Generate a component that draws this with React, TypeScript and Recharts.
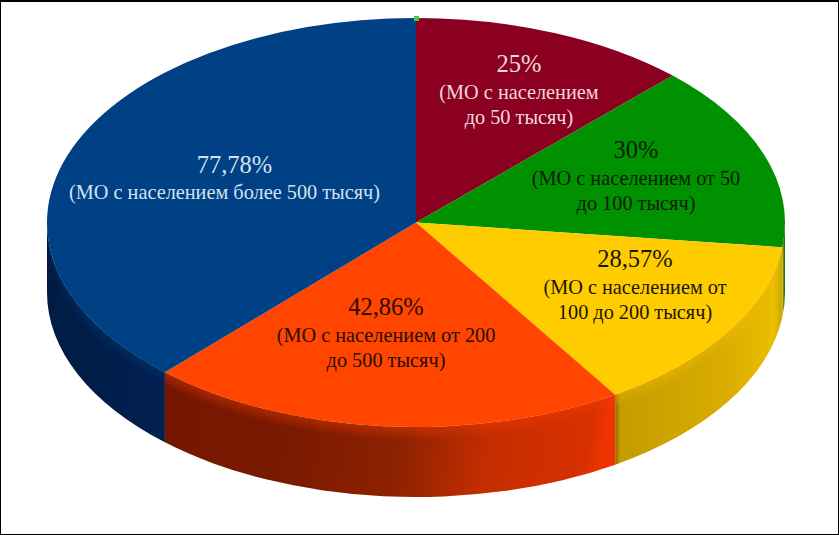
import { PieChart, Pie } from 'recharts'

const categories = ['до 50 тысяч', 'от 50 до 100 тысяч', 'от 100 до 200 тысяч', 'от 200 до 500 тысяч', 'более 500 тысяч']
const values = [25, 30, 28.57, 42.86, 77.78]
const percentLabels = ['25%', '30%', '28,57%', '42,86%', '77,78%']
const captionLines = [
  ['(МО с населением', 'до 50 тысяч)'],
  ['(МО с населением от 50', 'до 100 тысяч)'],
  ['(МО с населением от', '100 до 200 тысяч)'],
  ['(МО с населением от 200', 'до 500 тысяч)'],
  ['(МО с населением более 500 тысяч)'],
]

const TOP_COLORS = ['#8b0020', '#009100', '#ffcc00', '#ff4500', '#004084']
const WALL_FILLS = ['#5a0015', 'url(#wallGreen)', 'url(#wallYellow)', 'url(#wallOrange)', 'url(#wallBlue)']
const TEXT_COLORS = ['#f0d8dc', '#0a1c05', '#1c1604', '#2a0c04', '#d4e2f0']
// label centre and first baseline, px from the pie centre
const LABEL_OFFSETS = [
  [103, -150.5],
  [220, -64.5],
  [219, 44.5],
  [-30, 92.5],
  [-191.5, -50],
]
const PERCENT_SHIFT = [0, 0, 0, 0, 10]

const CX = 416
const CY = 222.5
const RX = 369
const RY = 204.5
const DEPTH = 70
const BEVEL_STEPS = [2, 4, 6, 8, 10, 12]

const chartData = categories.map((name, i) => ({ name, value: values[i], fill: TOP_COLORS[i], index: i }))

const pt = (angle: number, dy = 0) => {
  const a = (angle * Math.PI) / 180
  return `${CX + RX * Math.cos(a)} ${CY - RY * Math.sin(a) + dy}`
}

const band = (from: number, to: number, depth: number) =>
  `M ${pt(from)} A ${RX} ${RY} 0 0 1 ${pt(to)} L ${pt(to, depth)} A ${RX} ${RY} 0 0 0 ${pt(from, depth)} Z`

function EllipseSector(props: any) {
  const { startAngle, endAngle, payload, fill } = props
  const idx = payload?.index ?? 0
  const large = startAngle - endAngle > 180 ? 1 : 0
  // only the part facing the viewer gets a side wall
  const wallFrom = Math.min(startAngle, 0)
  const wallTo = Math.max(endAngle, -180)
  return (
    <g>
      {wallFrom > wallTo && <path d={band(wallFrom, wallTo, DEPTH)} fill={WALL_FILLS[idx]} />}
      {wallFrom > wallTo &&
        BEVEL_STEPS.map(d => <path key={d} d={band(wallFrom, wallTo, d)} fill={fill} opacity={0.07} />)}
      <path d={`M ${CX} ${CY} L ${pt(startAngle)} A ${RX} ${RY} 0 ${large} 1 ${pt(endAngle)} Z`} fill={fill} />
    </g>
  )
}

function renderLabel(props: any) {
  const i = props.index
  const [dx, dy] = LABEL_OFFSETS[i]
  const lines = captionLines[i]
  const x = CX + dx
  const y = CY + dy
  return (
    <text key={i} x={x} y={y} textAnchor="middle" fontFamily="'Liberation Serif', serif" fill={TEXT_COLORS[i]}>
      <tspan x={x + PERCENT_SHIFT[i]} y={y} fontSize={24.5}>{percentLabels[i]}</tspan>
      {lines.map((l, k) => (
        <tspan key={k} x={x} y={y + 26.5 + k * 25} fontSize={20.3}>{l}</tspan>
      ))}
    </text>
  )
}

export default function App() {
  return (
    <div style={{ position: 'absolute', left: 0, top: 0, width: 839, height: 535, boxSizing: 'border-box', border: '1px solid #000', borderTopWidth: 2, background: '#fff' }}>
      <div style={{ position: 'absolute', left: -1, top: -2 }}>
        <PieChart width={839} height={535} margin={{ top: 0, right: 0, bottom: 0, left: 0 }}>
          <defs>
            <linearGradient id="wallOrange" x1="0" y1="0" x2="1" y2="0.04">
              <stop offset="0" stopColor="#761600" />
              <stop offset="0.3" stopColor="#7a1a00" />
              <stop offset="0.55" stopColor="#8e2200" />
              <stop offset="0.74" stopColor="#c42d00" />
              <stop offset="0.96" stopColor="#d83000" />
              <stop offset="1" stopColor="#f03400" />
            </linearGradient>
            <linearGradient id="wallYellow" x1="0" y1="0" x2="1" y2="0">
              <stop offset="0" stopColor="#8a6c00" />
              <stop offset="0.03" stopColor="#c49c00" />
              <stop offset="0.6" stopColor="#d6aa00" />
              <stop offset="0.95" stopColor="#ebbd00" />
              <stop offset="1" stopColor="#c8a800" />
            </linearGradient>
            <linearGradient id="wallBlue" x1="0" y1="0" x2="1" y2="0">
              <stop offset="0" stopColor="#001c44" />
              <stop offset="1" stopColor="#002050" />
            </linearGradient>
            <linearGradient id="wallGreen" x1="0" y1="0" x2="1" y2="0">
              <stop offset="0" stopColor="#c8a800" />
              <stop offset="1" stopColor="#006e00" />
            </linearGradient>
          </defs>
          <Pie
            data={chartData}
            dataKey="value"
            nameKey="name"
            cx={CX}
            cy={CY}
            outerRadius={RX}
            startAngle={90}
            endAngle={-270}
            stroke="none"
            shape={EllipseSector}
            label={renderLabel}
            labelLine={false}
            isAnimationActive={false}
          />
        </PieChart>
      </div>
      <div style={{ position: 'absolute', left: 413, top: 14, width: 5, height: 5, background: '#44cc33' }} />
    </div>
  )
}
